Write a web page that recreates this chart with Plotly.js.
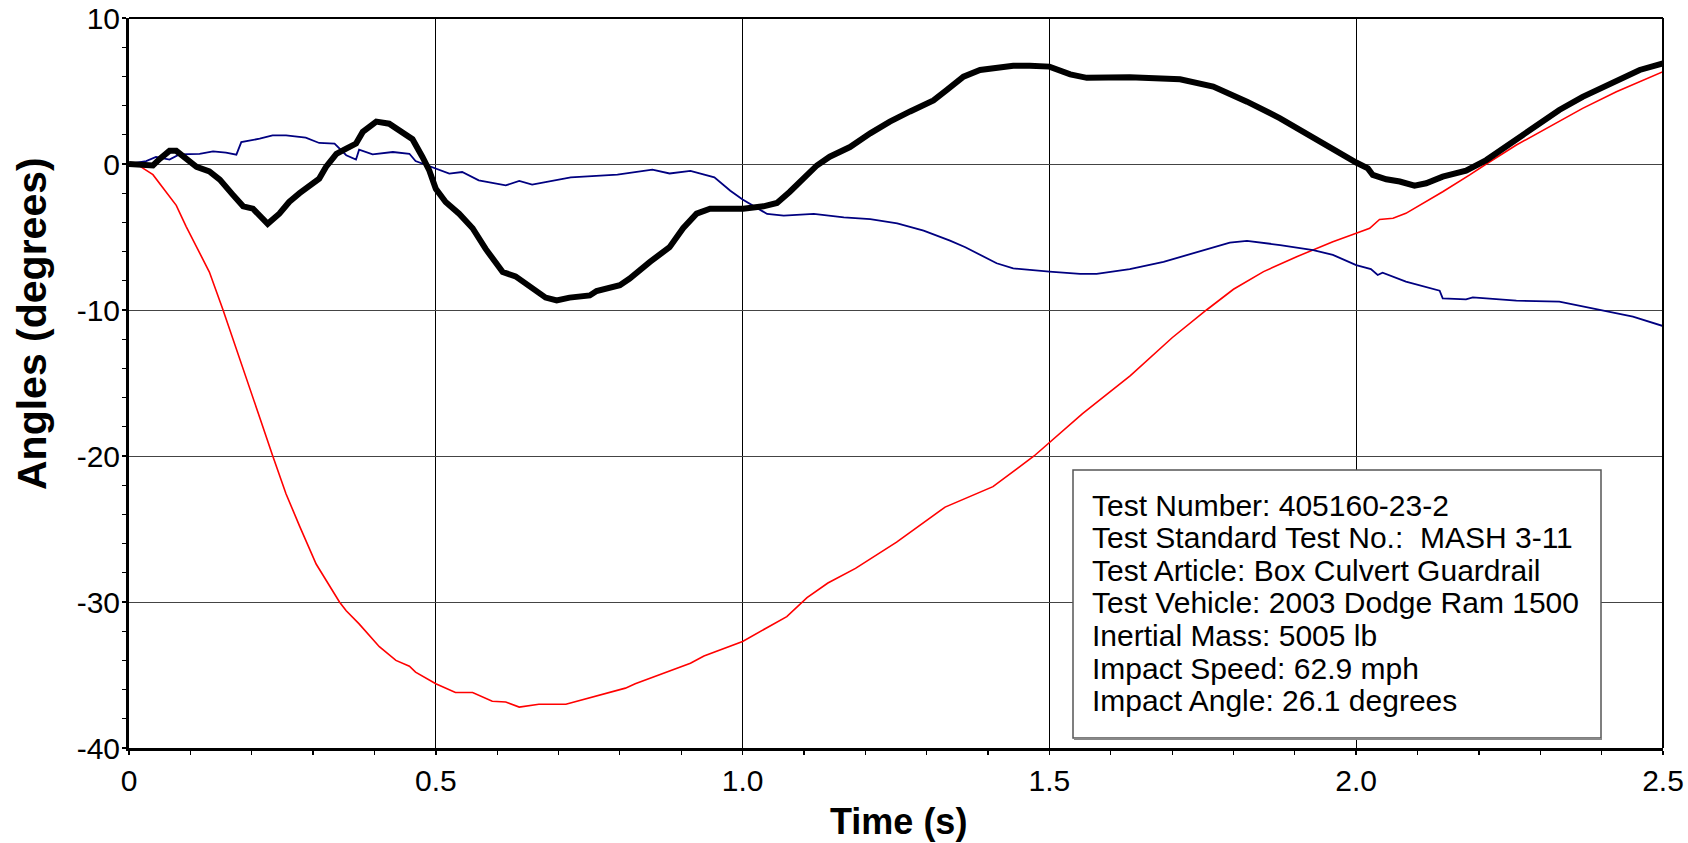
<!DOCTYPE html>
<html>
<head>
<meta charset="utf-8">
<script src="https://cdn.plot.ly/plotly-3.0.1.min.js"></script>
<style>
  html, body { margin: 0; padding: 0; background: #ffffff; }
  #chart { width: 1688px; height: 843px; }
</style>
</head>
<body>
<div id="chart"></div>
<script>
// ---- Data ----
const blackTime = [0, 0.039, 0.05, 0.066, 0.077, 0.093, 0.11, 0.131, 0.148, 0.169, 0.186, 0.202, 0.213, 0.226, 0.245, 0.261, 0.278, 0.294, 0.31, 0.321, 0.338, 0.354, 0.37, 0.381, 0.403, 0.424, 0.446, 0.462, 0.478, 0.489, 0.5, 0.516, 0.538, 0.56, 0.581, 0.609, 0.63, 0.652, 0.679, 0.697, 0.718, 0.751, 0.762, 0.8, 0.816, 0.849, 0.881, 0.903, 0.925, 0.947, 0.968, 1.001, 1.034, 1.056, 1.077, 1.099, 1.121, 1.142, 1.175, 1.208, 1.24, 1.273, 1.311, 1.333, 1.36, 1.387, 1.441, 1.468, 1.5, 1.534, 1.561, 1.631, 1.713, 1.767, 1.822, 1.876, 1.93, 1.951, 2.0, 2.019, 2.027, 2.049, 2.071, 2.095, 2.114, 2.141, 2.179, 2.212, 2.244, 2.288, 2.331, 2.369, 2.424, 2.462, 2.5];
const blackAngle = [0, -0.1, 0.35, 0.9, 0.9, 0.35, -0.2, -0.5, -1.07, -2.1, -2.9, -3.06, -3.6, -4.1, -3.4, -2.6, -2.0, -1.5, -1.0, -0.2, 0.7, 1.05, 1.4, 2.2, 2.9, 2.76, 2.2, 1.7, 0.5, -0.4, -1.7, -2.6, -3.4, -4.4, -5.8, -7.4, -7.7, -8.4, -9.15, -9.35, -9.15, -9.0, -8.7, -8.3, -7.85, -6.7, -5.7, -4.4, -3.4, -3.06, -3.06, -3.06, -2.9, -2.67, -1.9, -1.0, -0.1, 0.5, 1.16, 2.1, 2.9, 3.6, 4.36, 5.07, 5.98, 6.44, 6.73, 6.73, 6.67, 6.14, 5.9, 5.94, 5.8, 5.3, 4.27, 3.13, 1.76, 1.3, 0.1, -0.3, -0.75, -1.05, -1.2, -1.48, -1.32, -0.87, -0.46, 0.27, 1.19, 2.56, 3.7, 4.6, 5.75, 6.44, 6.9];

const blueTime = [0, 0.028, 0.044, 0.066, 0.082, 0.115, 0.137, 0.158, 0.175, 0.183, 0.213, 0.234, 0.256, 0.288, 0.31, 0.335, 0.354, 0.37, 0.375, 0.397, 0.43, 0.457, 0.467, 0.5, 0.522, 0.543, 0.57, 0.614, 0.636, 0.657, 0.72, 0.796, 0.853, 0.881, 0.915, 0.954, 0.98, 1.0, 1.04, 1.067, 1.116, 1.165, 1.208, 1.252, 1.295, 1.338, 1.363, 1.414, 1.441, 1.5, 1.55, 1.577, 1.631, 1.686, 1.74, 1.794, 1.822, 1.876, 1.93, 1.962, 2.0, 2.024, 2.035, 2.043, 2.081, 2.136, 2.141, 2.179, 2.19, 2.261, 2.331, 2.369, 2.451, 2.5];
const blueAngle = [0, 0.2, 0.48, 0.3, 0.66, 0.7, 0.87, 0.78, 0.64, 1.5, 1.73, 1.96, 1.96, 1.8, 1.44, 1.39, 0.6, 0.3, 0.98, 0.66, 0.82, 0.7, 0.2, -0.32, -0.66, -0.55, -1.12, -1.46, -1.16, -1.41, -0.91, -0.73, -0.39, -0.65, -0.47, -0.92, -1.83, -2.43, -3.42, -3.54, -3.42, -3.65, -3.77, -4.06, -4.57, -5.25, -5.7, -6.8, -7.15, -7.37, -7.53, -7.53, -7.2, -6.7, -6.07, -5.39, -5.27, -5.55, -5.9, -6.23, -6.92, -7.2, -7.6, -7.44, -8.06, -8.68, -9.2, -9.27, -9.13, -9.36, -9.43, -9.77, -10.46, -11.1];

const redTime = [0, 0.017, 0.039, 0.055, 0.077, 0.093, 0.11, 0.131, 0.153, 0.186, 0.213, 0.234, 0.256, 0.278, 0.305, 0.343, 0.354, 0.375, 0.408, 0.435, 0.457, 0.467, 0.5, 0.532, 0.56, 0.592, 0.614, 0.636, 0.668, 0.712, 0.755, 0.809, 0.825, 0.915, 0.937, 1.0, 1.072, 1.105, 1.139, 1.184, 1.251, 1.33, 1.408, 1.475, 1.554, 1.632, 1.7, 1.756, 1.8, 1.849, 1.903, 1.962, 2.0, 2.022, 2.038, 2.06, 2.081, 2.141, 2.185, 2.212, 2.261, 2.315, 2.369, 2.424, 2.5];
const redAngle = [0, -0.13, -0.73, -1.65, -2.83, -4.27, -5.7, -7.4, -9.97, -13.95, -17.36, -19.97, -22.6, -24.8, -27.4, -30.0, -30.6, -31.5, -33.06, -34.0, -34.4, -34.8, -35.6, -36.2, -36.2, -36.8, -36.85, -37.2, -37.0, -37.0, -36.5, -35.9, -35.6, -34.2, -33.7, -32.7, -31.0, -29.7, -28.7, -27.7, -25.9, -23.5, -22.1, -20.0, -17.1, -14.5, -11.9, -10.0, -8.58, -7.37, -6.35, -5.32, -4.75, -4.4, -3.8, -3.72, -3.38, -1.9, -0.75, 0, 1.3, 2.56, 3.81, 4.95, 6.32];

const xTickVals = [0, 0.5, 1.0, 1.5, 2.0, 2.5];
const xTickText = ['0', '0.5', '1.0', '1.5', '2.0', '2.5'];
const yTickVals = [-40, -30, -20, -10, 0, 10];
const yTickText = ['-40', '-30', '-20', '-10', '0', '10'];

const infoLines = [
  'Test Number: 405160-23-2',
  'Test Standard Test No.:  MASH 3-11',
  'Test Article: Box Culvert Guardrail',
  'Test Vehicle: 2003 Dodge Ram 1500',
  'Inertial Mass: 5005 lb',
  'Impact Speed: 62.9 mph',
  'Impact Angle: 26.1 degrees'
];
const xTitle = 'Time (s)';
const yTitle = 'Angles (degrees)';

// ---- Layout helpers (pixel -> paper) ----
const W = 1688, H = 843;
const M = {l: 129, r: 25, t: 18, b: 95};
const PW = W - M.l - M.r, PH = H - M.t - M.b;
const px = X => (X - M.l) / PW;
const py = Y => (H - M.b - Y) / PH;

const FONT = 'Liberation Sans, Arial, Helvetica, sans-serif';

const traces = [
  {x: redTime, y: redAngle, type: 'scatter', mode: 'lines',
   line: {color: '#ff0000', width: 1.6}, hoverinfo: 'skip', showlegend: false},
  {x: blueTime, y: blueAngle, type: 'scatter', mode: 'lines',
   line: {color: '#000080', width: 1.8}, hoverinfo: 'skip', showlegend: false},
  {x: blackTime, y: blackAngle, type: 'scatter', mode: 'lines',
   line: {color: '#000000', width: 6}, hoverinfo: 'skip', showlegend: false}
];

const annotations = [];
infoLines.forEach((t, i) => {
  annotations.push({
    xref: 'paper', yref: 'paper', x: px(1090), y: py(505 + i * 32.6),
    xanchor: 'left', yanchor: 'middle', showarrow: false, align: 'left',
    text: t, font: {family: FONT, size: 30, color: '#000'}
  });
});
annotations.push({
  xref: 'paper', yref: 'paper', x: px(898), y: py(822),
  xanchor: 'center', yanchor: 'middle', showarrow: false,
  text: '<b>' + xTitle + '</b>', font: {family: FONT, size: 36, color: '#000'}
});
annotations.push({
  xref: 'paper', yref: 'paper', x: px(32), y: py(324),
  xanchor: 'center', yanchor: 'middle', showarrow: false, textangle: -90,
  text: '<b>' + yTitle + '</b>', font: {family: FONT, size: 41, color: '#000'}
});

const shapes = [
  // info box
  {type: 'rect', xref: 'paper', yref: 'paper', x0: px(1073), x1: px(1601), y0: py(738), y1: py(470),
   line: {color: '#555555', width: 1.5}, fillcolor: '#ffffff', layer: 'above'},
  {type: 'line', xref: 'paper', yref: 'paper', x0: px(1074), x1: px(1602), y0: py(739), y1: py(739),
   line: {color: '#888888', width: 2}, layer: 'above'},
  // top and right frame
  {type: 'line', xref: 'paper', yref: 'paper', x0: 0, x1: 1, y0: 1, y1: 1,
   line: {color: '#000', width: 2}},
  {type: 'line', xref: 'paper', yref: 'paper', x0: 1, x1: 1, y0: 0, y1: 1,
   line: {color: '#000', width: 2}}
];

const layout = {
  width: W, height: H,
  margin: M,
  paper_bgcolor: '#ffffff', plot_bgcolor: '#ffffff',
  showlegend: false,
  font: {family: FONT, color: '#000'},
  xaxis: {
    range: [0, 2.5], tickmode: 'array', tickvals: xTickVals, ticktext: xTickText,
    showgrid: true, gridcolor: '#000000', gridwidth: 1, zeroline: false,
    showline: true, linecolor: '#000', linewidth: 3,
    ticks: 'outside', ticklen: 4, tickwidth: 1.5, tickcolor: '#000',
    tickfont: {family: FONT, size: 30, color: '#000'},
    minor: {dtick: 0.1, tick0: 0, ticks: 'outside', ticklen: 4, tickwidth: 1.2, tickcolor: '#000', showgrid: false},
    fixedrange: true
  },
  yaxis: {
    range: [-40, 10], tickmode: 'array', tickvals: yTickVals, ticktext: yTickText,
    showgrid: true, gridcolor: '#444444', gridwidth: 1, zeroline: false,
    showline: true, linecolor: '#000', linewidth: 3,
    ticks: 'outside', ticklen: 4, tickwidth: 1.5, tickcolor: '#000',
    ticklabelstandoff: -4,
    tickfont: {family: FONT, size: 30, color: '#000'},
    minor: {dtick: 2, tick0: 0, ticks: 'outside', ticklen: 4, tickwidth: 1.2, tickcolor: '#000', showgrid: false},
    fixedrange: true
  },
  annotations: annotations,
  shapes: shapes
};

Plotly.newPlot('chart', traces, layout, {staticPlot: true, displayModeBar: false, responsive: false});
</script>
</body>
</html>
